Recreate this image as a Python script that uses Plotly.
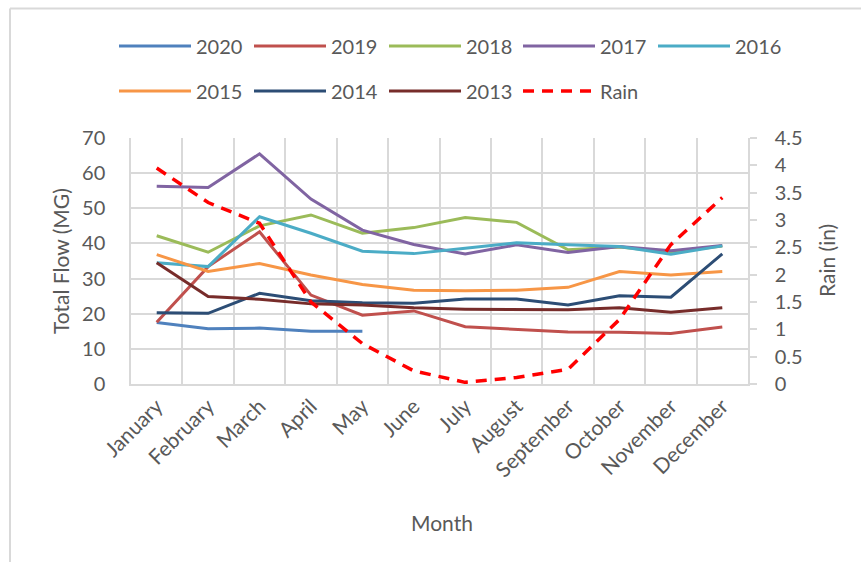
import plotly.graph_objects as go

months = ["January", "February", "March", "April", "May", "June", "July",
          "August", "September", "October", "November", "December"]

flow_2020 = [17.5, 15.7, 15.9, 15.0, 15.0]
flow_2019 = [17.6, 33.4, 43.3, 25.3, 19.6, 20.8, 16.3, 15.6, 14.8, 14.7, 14.4, 16.2]
flow_2018 = [42.2, 37.5, 45.0, 48.1, 42.9, 44.5, 47.4, 46.0, 38.2, 39.0, 37.5, 39.3]
flow_2017 = [56.3, 55.9, 65.5, 52.6, 43.8, 39.7, 37.0, 39.6, 37.4, 39.1, 37.9, 39.4]
flow_2016 = [34.5, 33.4, 47.6, 42.9, 37.8, 37.1, 38.6, 40.2, 39.6, 39.1, 36.9, 39.3]
flow_2015 = [36.8, 32.0, 34.3, 31.0, 28.3, 26.7, 26.5, 26.7, 27.5, 32.0, 31.0, 32.0]
flow_2014 = [20.3, 20.1, 25.8, 23.7, 23.1, 23.0, 24.2, 24.2, 22.5, 25.1, 24.7, 37.0]
flow_2013 = [34.5, 24.9, 24.1, 22.8, 22.5, 21.7, 21.3, 21.3, 21.1, 21.7, 20.4, 21.7]
rain = [3.95, 3.32, 2.94, 1.50, 0.74, 0.24, 0.03, 0.12, 0.27, 1.18, 2.55, 3.41]

series = [
    ("2020", flow_2020, "#4F81BD"),
    ("2019", flow_2019, "#C0504D"),
    ("2018", flow_2018, "#9BBB59"),
    ("2017", flow_2017, "#8064A2"),
    ("2016", flow_2016, "#4BACC6"),
    ("2015", flow_2015, "#F79646"),
    ("2014", flow_2014, "#2C4D75"),
    ("2013", flow_2013, "#772C2A"),
]

FONT = "Lato, 'Open Sans', sans-serif"
GRAY = "#595959"
GRID = "#D9D9D9"

L, R, T, B = 131, 748, 138, 384
W, H = 861, 562
def px(xp):
    return (xp - L) / (R - L)
def py(yp):
    return (B - yp) / (B - T)

# legend slot positions (pixels): 5 per row, two rows
slot_x = [114, 249, 384, 518, 653]
slot_y = [46, 91]

def legend_name(i):
    return "legend" if i == 0 else f"legend{i + 1}"

fig = go.Figure()
for i, (name, vals, color) in enumerate(series):
    fig.add_trace(go.Scatter(x=months[:len(vals)], y=vals, name=name, mode="lines",
                             line=dict(color=color, width=3), legend=legend_name(i)))
fig.add_trace(go.Scatter(x=months, y=rain, name="Rain", mode="lines", yaxis="y2",
                         line=dict(color="#FF0000", width=3.5, dash="11px,8px"),
                         legend=legend_name(8)))

legends = {}
for i in range(9):
    legends[legend_name(i)] = dict(
        orientation="h", xanchor="left", yanchor="middle",
        x=px(slot_x[i % 5]), y=py(slot_y[i // 5]), itemwidth=72,
        font=dict(family=FONT, size=20, color=GRAY),
        bgcolor="rgba(0,0,0,0)")

fig.update_layout(
    width=W, height=H,
    margin=dict(l=L, r=W - R, t=T, b=H - B, autoexpand=False),
    paper_bgcolor="white", plot_bgcolor="white",
    font=dict(family=FONT, color=GRAY),
    showlegend=True,
    xaxis=dict(range=[-0.5, 11.5], tickson="boundaries", showgrid=True,
               gridcolor=GRID, gridwidth=1.5, showline=True, linecolor=GRID,
               linewidth=1.5, ticks="", tickangle=-45, automargin=False,
               tickfont=dict(family=FONT, size=21, color=GRAY), zeroline=False),
    yaxis=dict(range=[0, 70], dtick=10, showgrid=True, gridcolor=GRID,
               gridwidth=1.5, showline=True, linecolor=GRID, linewidth=1.5,
               ticks="", ticklabelstandoff=20, automargin=False,
               tickfont=dict(family=FONT, size=20, color=GRAY), zeroline=False),
    yaxis2=dict(range=[0, 4.5], dtick=0.5, overlaying="y", side="right",
                showgrid=False, showline=True, linecolor=GRID, linewidth=1.5,
                ticks="outside", ticklen=7, tickcolor=GRID, tickwidth=1.5,
                ticklabelstandoff=14, automargin=False,
                tickfont=dict(family=FONT, size=20, color=GRAY), zeroline=False),
    annotations=[
        dict(text="Total Flow (MG)", xref="paper", yref="paper", x=px(60), y=0.5,
             textangle=-90, showarrow=False, xanchor="center", yanchor="middle",
             font=dict(family=FONT, size=21, color=GRAY)),
        dict(text="Rain (in)", xref="paper", yref="paper", x=px(826), y=0.5,
             textangle=-90, showarrow=False, xanchor="center", yanchor="middle",
             font=dict(family=FONT, size=21, color=GRAY)),
        dict(text="Month", xref="paper", yref="paper", x=px(442), y=py(522),
             showarrow=False, xanchor="center", yanchor="middle",
             font=dict(family=FONT, size=21, color=GRAY)),
    ],
    shapes=[
        dict(type="line", xref="paper", yref="paper", x0=px(10), x1=px(W + 5),
             y0=py(8.5), y1=py(8.5), line=dict(color=GRID, width=2)),
        dict(type="line", xref="paper", yref="paper", x0=px(10), x1=px(10),
             y0=py(8.5), y1=py(H + 5), line=dict(color=GRID, width=2)),
    ],
    **legends,
)

fig.write_html("out.html", config={"displayModeBar": False},
               post_script="document.body.style.margin='0';document.body.style.padding='0';")
